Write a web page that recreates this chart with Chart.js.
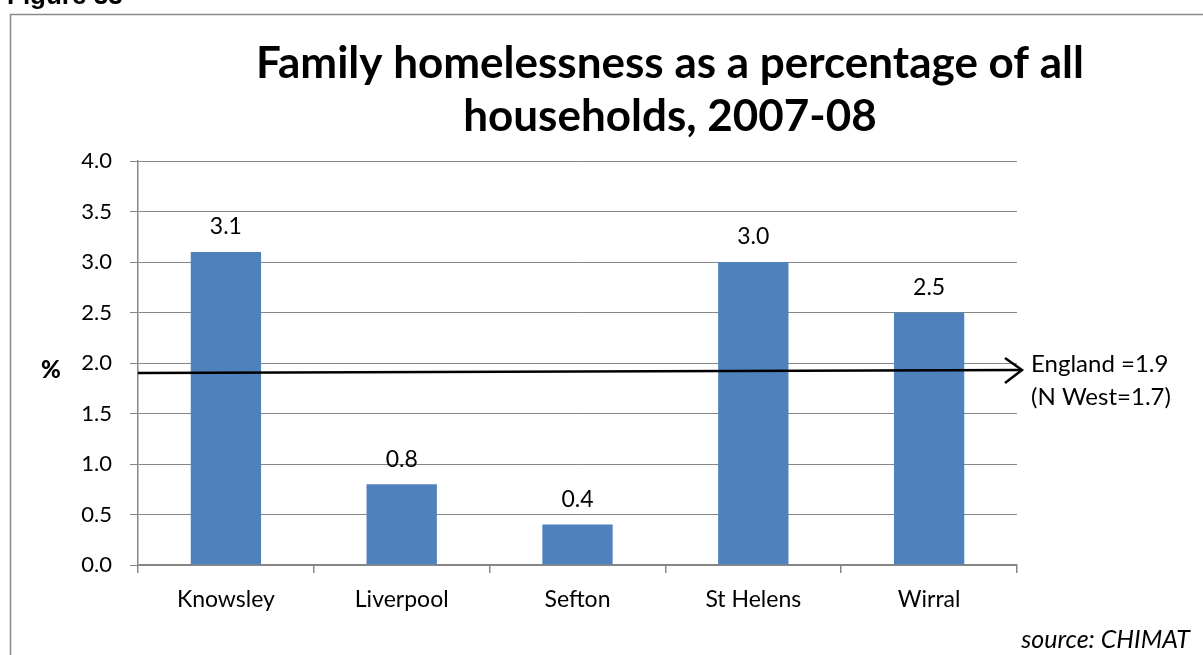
<!DOCTYPE html>
<html>
<head>
<meta charset="utf-8">
<script src="https://cdn.jsdelivr.net/npm/chart.js@4"></script>
<style>
  html, body { margin: 0; padding: 0; background: #fff; }
  #wrap { width: 1203px; height: 655px; position: relative; }
</style>
</head>
<body>
<div id="wrap"><canvas id="homelessChart" width="1203" height="655"></canvas></div>
<script>
// 表示データ
const areas = ['Knowsley', 'Liverpool', 'Sefton', 'St Helens', 'Wirral']
const homelessPct = [3.1, 0.8, 0.4, 3.0, 2.5]
const englandPct = 1.9
const refLabels = ['England =1.9', '(N West=1.7)']
const titleLines = ['Family homelessness as a percentage of all', 'households, 2007-08']

const FONT = "Lato, 'Open Sans', sans-serif"

// 枠線・タイトル・参照線などの描画
const decorations = {
  id: 'decorations',
  beforeDraw(chart) {
    const c = chart.ctx
    c.save()
    c.fillStyle = '#fff'
    c.fillRect(0, 0, chart.width, chart.height)
    c.strokeStyle = '#8a8a8a'
    c.lineWidth = 1.5
    c.strokeRect(10.5, 14.5, 1250, 700)
    c.fillStyle = '#000'
    c.font = "bold 26px Arial, 'Liberation Sans', sans-serif"
    c.textAlign = 'left'
    c.textBaseline = 'alphabetic'
    c.fillText('Figure 33', 7, 4)
    c.font = 'bold 44px ' + FONT
    c.textAlign = 'center'
    c.fillText(titleLines[0], 670, 78)
    c.fillText(titleLines[1], 670, 131)
    c.restore()
  },
  afterDraw(chart) {
    const c = chart.ctx
    const y = chart.scales.y.getPixelForValue(englandPct)
    const x0 = chart.chartArea.left, x1 = 1022
    c.save()
    // "%" ラベル
    c.fillStyle = '#000'
    c.font = '900 24px ' + FONT
    c.textAlign = 'center'
    c.textBaseline = 'middle'
    c.fillText('%', 51, y - 3)
    // 参照線（矢印）
    c.strokeStyle = '#000'
    c.lineWidth = 2.5
    c.beginPath()
    c.moveTo(x0, y)
    c.lineTo(x1 - 2, y - 3)
    c.stroke()
    c.beginPath()
    c.moveTo(x1 - 17, y - 15)
    c.lineTo(x1, y - 3)
    c.lineTo(x1 - 17, y + 10)
    c.stroke()
    c.font = '24px ' + FONT
    c.textAlign = 'left'
    c.fillText(refLabels[0], 1031, y - 9)
    c.fillText(refLabels[1], 1031, y + 24)
    // 出典
    c.font = 'italic 25px ' + FONT
    c.textAlign = 'right'
    c.fillText('source: CHIMAT', 1190, 640)
    // 値ラベル
    c.font = '23px ' + FONT
    c.textAlign = 'center'
    const meta = chart.getDatasetMeta(0)
    meta.data.forEach((bar, i) => {
      c.fillText(homelessPct[i].toFixed(1), bar.x, bar.y - 25)
    })
    c.restore()
  }
}

const ctx = document.querySelector('#homelessChart')
const homelessChart = new Chart(ctx, {
  type: 'bar',
  data: {
    labels: areas,
    datasets: [{
      data: homelessPct,
      backgroundColor: '#4f81bd',
      categoryPercentage: 1.0,
      barPercentage: 0.4
    }]
  },
  options: {
    responsive: false,
    animation: false,
    devicePixelRatio: 1,
    layout: { padding: { left: 0, right: 186, top: 161, bottom: 0 } },
    plugins: {
      legend: { display: false },
      tooltip: { enabled: false }
    },
    scales: {
      x: {
        grid: { display: true, drawOnChartArea: false, tickLength: 8, color: '#868686', lineWidth: 1.5, offset: true },
        border: { color: '#868686', width: 1.5 },
        ticks: { color: '#000', font: { family: FONT, size: 23 }, padding: 13 },
        afterFit(scale) { scale.height = 90 }
      },
      y: {
        min: 0,
        max: 4,
        grid: { color: '#868686', lineWidth: 1, tickLength: 8 },
        border: { color: '#868686', width: 1.5 },
        ticks: {
          stepSize: 0.5,
          color: '#000',
          font: { family: FONT, size: 22 },
          padding: 18,
          callback: (v) => Number(v).toFixed(1)
        },
        afterFit(scale) { scale.width = 138 }
      }
    }
  },
  plugins: [decorations]
})
</script>
</body>
</html>
